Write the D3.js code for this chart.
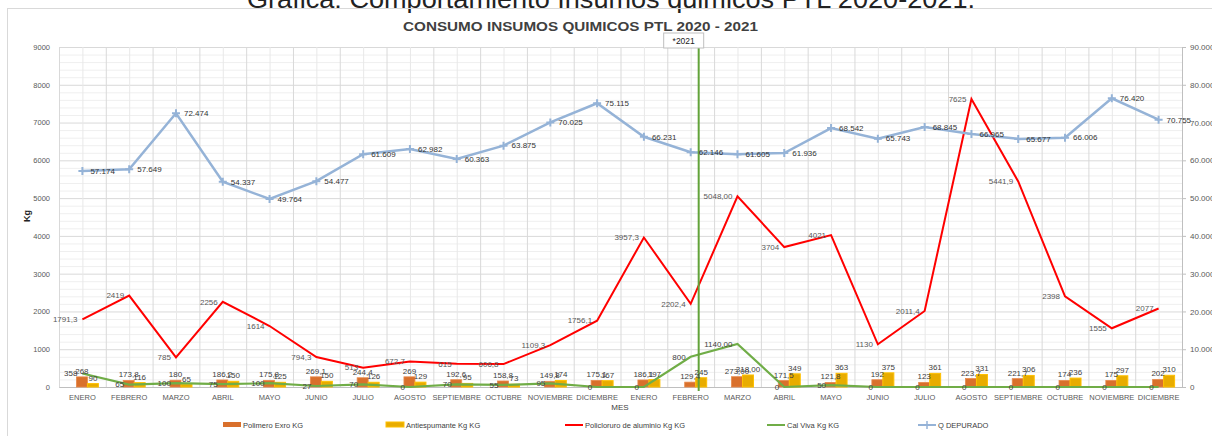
<!DOCTYPE html>
<html>
<head>
<meta charset="utf-8">
<script src="https://cdn.jsdelivr.net/npm/d3@7"></script>
<style>
  body { margin: 0; background: #fff; overflow: hidden; }
  svg text { font-family: "Liberation Sans", Arial, sans-serif; }
</style>
</head>
<body>
<svg id="chart" width="1212" height="436"></svg>
<script>
// data (2020 Jan..Dec, then 2021 Jan..Dec)
const monthNames = ['ENERO','FEBRERO','MARZO','ABRIL','MAYO','JUNIO','JULIO','AGOSTO','SEPTIEMBRE','OCTUBRE','NOVIEMBRE','DICIEMBRE'];
const months = monthNames.concat(monthNames);

const polimero = [268, 173.8, 180, 186.2, 175.8, 269.1, 244.4, 269, 192.6, 158.8, 149.8, 175.1,
                  186.1, 129.4, 273, 171.5, 121.8, 192, 123, 223.7, 221.7, 174, 175, 202];
const antiespumante = [90, 116, 65, 150, 125, 150, 126, 129, 95, 73, 174, 167,
                       197, 245, 318, 349, 363, 375, 361, 331, 306, 236, 297, 310];
const policloruro = [1791.3, 2419, 785, 2256, 1614, 794.3, 513, 672.7, 615, 606.8, 1109.3, 1756.1,
                     3957.3, 2202.4, 5048, 3704, 4021, 1130, 2011.4, 7625, 5441.9, 2398, 1555, 2077];
const calViva = [358, 65, 100, 75, 100, 27, 70, 0, 70, 55, 95, 0,
                 0, 800, 1140, 0, 50, 0, 0, 0, 0, 0, 0, 0];
const qDepurado = [57174, 57649, 72474, 54337, 49764, 54477, 61609, 62982, 60363, 63875, 70025, 75115,
                   66231, 62146, 61605, 61936, 68542, 65743, 68845, 66965, 65677, 66006, 76420, 70755];

const leftTicks = d3.range(0, 9001, 1000);
const rightTicks = d3.range(0, 90001, 10000);
const twoDecimalIndex = 14; // MARZO 2021 labels show ",00"

const legendNames = ['Polimero Exro KG', 'Antiespumante Kg  KG', 'Policloruro de aluminio Kg KG', 'Cal Viva Kg KG', 'Q DEPURADO'];

const svg = d3.select('#chart');
const pLeft = 59, pRight = 1182, pTop = 47, pBottom = 387;

const x = d3.scaleBand().domain(d3.range(months.length)).range([pLeft, pRight]);
const bw = x.bandwidth();
const cx = i => x(i) + bw / 2;
const yL = d3.scaleLinear().domain([0, 9000]).range([pBottom, pTop]);
const yR = d3.scaleLinear().domain([0, 90000]).range([pBottom, pTop]);

const es = d3.formatLocale({ decimal: ',', thousands: '.', grouping: [3], currency: ['', ''] });
const fmtThousands = es.format(',d');
function lbl(v, i) {
  if (i === twoDecimalIndex && v !== 0) return es.format('.2f')(v);
  return Number.isInteger(v) ? String(v) : es.format('.1f')(v);
}

// top page caption (cut off by the crop)
svg.append('text')
  .attr('x', 247).attr('y', 8)
  .attr('textLength', 728).attr('lengthAdjust', 'spacingAndGlyphs')
  .attr('font-size', 25).attr('fill', '#222')
  .text('Grafica: Comportamiento Insumos quimicos PTL 2020-2021.');

// chart frame
svg.append('rect')
  .attr('x', 7.5).attr('y', 8.5).attr('width', 1220).attr('height', 440)
  .attr('fill', 'none').attr('stroke', '#d9d9d9');

svg.append('text')
  .attr('x', 403).attr('y', 31)
  .attr('textLength', 355).attr('lengthAdjust', 'spacingAndGlyphs')
  .attr('font-size', 13.5).attr('font-weight', 'bold')
  .attr('fill', '#404040')
  .text('CONSUMO INSUMOS QUIMICOS PTL 2020 - 2021');

// grid
const grid = svg.append('g');
d3.range(0, 9001, 200).forEach(v => {
  grid.append('line')
    .attr('x1', pLeft).attr('x2', pRight).attr('y1', yL(v) + 0.5).attr('y2', yL(v) + 0.5)
    .attr('stroke', v % 1000 === 0 ? '#d9d9d9' : '#efefef');
});
d3.range(months.length).forEach(i => {
  grid.append('line')
    .attr('x1', x(i) + 0.5).attr('x2', x(i) + 0.5).attr('y1', pTop).attr('y2', pBottom)
    .attr('stroke', '#d9d9d9');
  grid.append('line')
    .attr('x1', cx(i) + 0.5).attr('x2', cx(i) + 0.5).attr('y1', pTop).attr('y2', pBottom)
    .attr('stroke', '#e8e8e8');
});

// left axis
const ax = svg.append('g').attr('transform', `translate(${pLeft - 6},0)`)
  .call(d3.axisLeft(yL).tickValues(leftTicks).tickSize(0).tickFormat(d3.format('d')));
ax.select('.domain').remove();
ax.selectAll('text').attr('font-size', 7.5).attr('fill', '#595959').attr('font-family', '"Liberation Sans", Arial, sans-serif');

// right axis
const ar = svg.append('g').attr('transform', `translate(${pRight},0)`)
  .call(d3.axisRight(yR).tickValues(rightTicks).tickSize(4).tickPadding(4)
    .tickFormat(d => d === 0 ? '0' : fmtThousands(d)));
ar.select('.domain').attr('stroke', '#bfbfbf');
ar.selectAll('line').attr('stroke', '#bfbfbf');
ar.selectAll('text').attr('font-size', 8).attr('fill', '#595959').attr('font-family', '"Liberation Sans", Arial, sans-serif');

// bottom axis
const ab = svg.append('g').attr('transform', `translate(0,${pBottom})`)
  .call(d3.axisBottom(x).tickSize(0).tickPadding(8).tickFormat(i => months[i]));
ab.select('.domain').attr('stroke', '#bfbfbf');
ab.selectAll('text').attr('font-size', 7.5).attr('fill', '#595959').attr('font-family', '"Liberation Sans", Arial, sans-serif');

svg.append('text').attr('x', 620).attr('y', 410).attr('text-anchor', 'middle')
  .attr('font-size', 8).attr('fill', '#404040').text('MES');
svg.append('text').attr('transform', 'translate(30,216) rotate(-90)').attr('text-anchor', 'middle')
  .attr('font-size', 9).attr('font-weight', 'bold').attr('fill', '#222').text('Kg');

// bars
const barW = bw * 0.235;
const barOff = bw * 0.372;
svg.append('g').selectAll('rect').data(polimero).join('rect')
  .attr('x', (d, i) => x(i) + barOff).attr('width', barW)
  .attr('y', d => yL(d)).attr('height', d => pBottom - yL(d))
  .attr('fill', '#d9702c').attr('stroke', '#e88a4c').attr('stroke-width', 0.8);
svg.append('g').selectAll('rect').data(antiespumante).join('rect')
  .attr('x', (d, i) => x(i) + barOff + barW).attr('width', barW)
  .attr('y', d => yL(d)).attr('height', d => pBottom - yL(d))
  .attr('fill', '#e8ac00').attr('stroke', '#ffc000').attr('stroke-width', 1);

// lines
const lineL = d3.line().x((d, i) => cx(i)).y(d => yL(d));
const lineR = d3.line().x((d, i) => cx(i)).y(d => yR(d));
svg.append('path').datum(policloruro).attr('d', lineL)
  .attr('fill', 'none').attr('stroke', '#ff0000').attr('stroke-width', 2);
svg.append('path').datum(calViva).attr('d', lineL)
  .attr('fill', 'none').attr('stroke', '#70ad47').attr('stroke-width', 2.2);
svg.append('path').datum(qDepurado).attr('d', lineR)
  .attr('fill', 'none').attr('stroke', '#95b3d7').attr('stroke-width', 2.5);
const mk = svg.append('g');
qDepurado.forEach((d, i) => {
  mk.append('path')
    .attr('d', `M${cx(i) - 4},${yR(d)}h8M${cx(i)},${yR(d) - 4}v8`)
    .attr('stroke', '#95b3d7').attr('stroke-width', 2);
});

// 2021 marker annotation
const mark2021 = cx(13) + 8;
svg.append('line').attr('x1', mark2021).attr('x2', mark2021).attr('y1', 48).attr('y2', 391)
  .attr('stroke', '#62a33a').attr('stroke-width', 2);
svg.append('rect').attr('x', mark2021 - 35).attr('y', 33).attr('width', 40).attr('height', 15)
  .attr('fill', '#fff').attr('stroke', '#bfbfbf');
svg.append('text').attr('x', mark2021 - 15).attr('y', 44).attr('text-anchor', 'middle')
  .attr('font-size', 8.5).attr('fill', '#222').text('*2021');

// data labels
const labels = svg.append('g').attr('font-size', 8);
polimero.forEach((d, i) => {
  labels.append('text').attr('x', x(i) + barOff + barW / 2).attr('y', yL(d) - 3)
    .attr('text-anchor', 'middle').attr('fill', '#404040').text(lbl(d, i));
});
antiespumante.forEach((d, i) => {
  labels.append('text').attr('x', x(i) + barOff + barW * 1.5).attr('y', yL(d) - 3)
    .attr('text-anchor', 'middle').attr('fill', '#404040').text(lbl(d, i));
});
policloruro.forEach((d, i) => {
  labels.append('text').attr('x', cx(i) - 5).attr('y', yL(d)).attr('dy', '0.35em')
    .attr('text-anchor', 'end').attr('fill', '#595959').text(lbl(d, i));
});
calViva.forEach((d, i) => {
  labels.append('text').attr('x', cx(i) - 5).attr('y', yL(d)).attr('dy', '0.35em')
    .attr('text-anchor', 'end').attr('fill', '#404040').text(lbl(d, i));
});
qDepurado.forEach((d, i) => {
  labels.append('text').attr('x', cx(i) + 8).attr('y', yR(d)).attr('dy', '0.35em')
    .attr('fill', '#333').text(fmtThousands(d));
});

// legend
const lg = svg.append('g').attr('font-size', 7.5).attr('fill', '#404040');
const legendX = [223, 386, 565, 767, 918];
legendNames.forEach((name, k) => {
  const lx = legendX[k];
  if (k === 0) lg.append('rect').attr('x', lx).attr('y', 422).attr('width', 18).attr('height', 5).attr('fill', '#d9702c');
  if (k === 1) lg.append('rect').attr('x', lx).attr('y', 422).attr('width', 18).attr('height', 5).attr('fill', '#e8ac00').attr('stroke', '#ffc000');
  if (k === 2) lg.append('line').attr('x1', lx).attr('x2', lx + 18).attr('y1', 425).attr('y2', 425).attr('stroke', '#ff0000').attr('stroke-width', 2);
  if (k === 3) lg.append('line').attr('x1', lx).attr('x2', lx + 18).attr('y1', 425).attr('y2', 425).attr('stroke', '#70ad47').attr('stroke-width', 2);
  if (k === 4) {
    lg.append('line').attr('x1', lx).attr('x2', lx + 18).attr('y1', 425).attr('y2', 425).attr('stroke', '#95b3d7').attr('stroke-width', 2);
    lg.append('path').attr('d', `M${lx + 5},425h8M${lx + 9},421v8`).attr('stroke', '#95b3d7').attr('stroke-width', 1.5);
  }
  lg.append('text').attr('x', lx + 20).attr('y', 427.5).text(name);
});
</script>
</body>
</html>
